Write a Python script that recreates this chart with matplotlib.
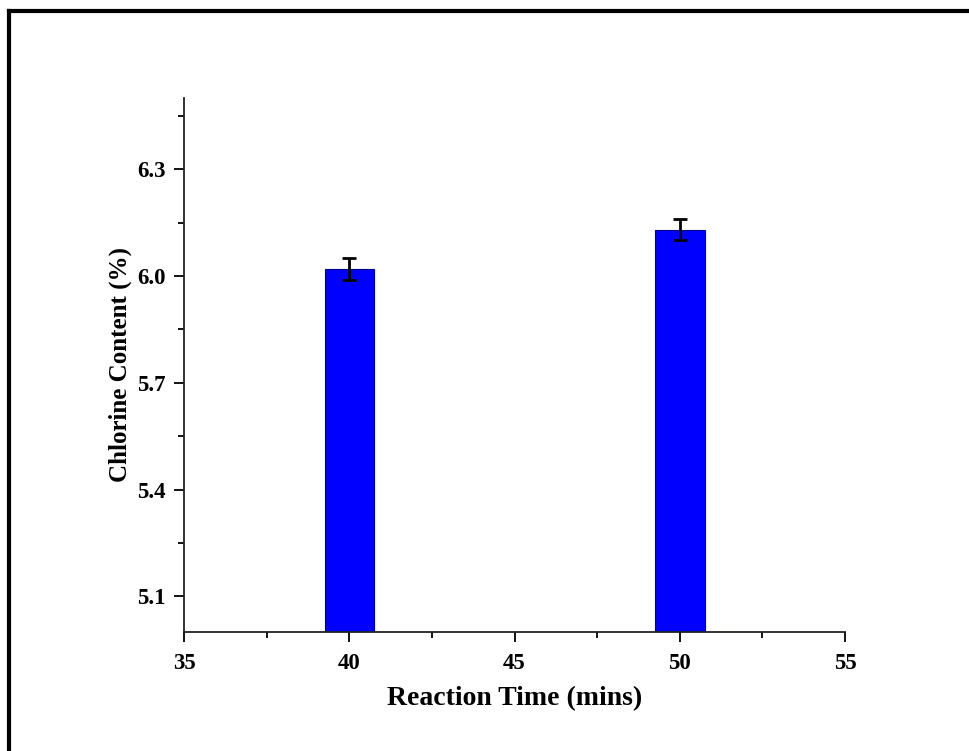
import matplotlib
matplotlib.use("Agg")
import matplotlib.pyplot as plt
from matplotlib.lines import Line2D
from matplotlib.ticker import MultipleLocator, FormatStrFormatter

reaction_time = [40, 50]
chlorine_content = [6.02, 6.13]
errors = [0.03, 0.03]

plt.rcParams['font.family'] = ['Liberation Serif', 'DejaVu Serif']
plt.rcParams['font.weight'] = 'bold'

fig = plt.figure(figsize=(9.69, 7.51), dpi=100)
ax = fig.add_axes([0.19, 0.1585, 0.682, 0.711])

ax.bar(reaction_time, chlorine_content, width=1.5, color='#0000FF',
       edgecolor='#00008B', linewidth=0.8, zorder=2)
ax.errorbar(reaction_time, chlorine_content, yerr=errors, fmt='none',
            ecolor='black', elinewidth=2, capsize=5, capthick=2, zorder=3)

ax.set_xlim(35, 55)
ax.set_ylim(5.0, 6.5)
ax.xaxis.set_major_locator(MultipleLocator(5))
ax.xaxis.set_minor_locator(MultipleLocator(2.5))
ax.set_yticks([5.1, 5.4, 5.7, 6.0, 6.3])
ax.set_yticks([5.25, 5.55, 5.85, 6.15, 6.45], minor=True)
ax.yaxis.set_major_formatter(FormatStrFormatter('%.1f'))

for s in ['top', 'right']:
    ax.spines[s].set_visible(False)
for s in ['left', 'bottom']:
    ax.spines[s].set_linewidth(1.3)
    ax.spines[s].set_color('#222222')

ax.tick_params(which='major', direction='out', length=7, width=1.3, labelsize=16.5)
ax.tick_params(axis='y', which='major', pad=6)
ax.tick_params(axis='x', which='major', pad=8)
ax.tick_params(which='minor', direction='out', length=4, width=1.3)
for lbl in ax.get_xticklabels() + ax.get_yticklabels():
    lbl.set_fontweight('bold')

ax.set_xlabel('Reaction Time (mins)', fontsize=20, fontweight='bold', labelpad=9)
ax.set_ylabel('Chlorine Content (%)', fontsize=18, fontweight='bold', labelpad=4)

# outer frame (top and left edges visible)
fig.add_artist(Line2D([0.0093, 1.0], [0.9854, 0.9854], color='black', lw=3, transform=fig.transFigure))
fig.add_artist(Line2D([0.0093, 0.0093], [0.0, 0.9854], color='black', lw=3, transform=fig.transFigure))

fig.savefig('out.png', dpi=100)
